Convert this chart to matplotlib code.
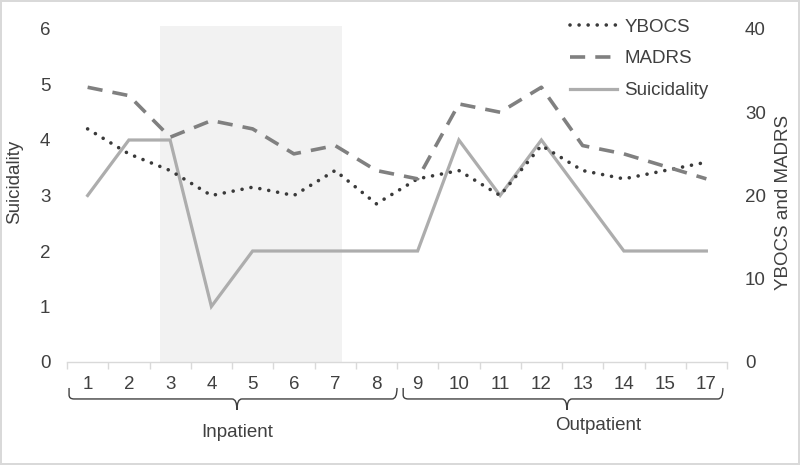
import matplotlib
matplotlib.use("Agg")
import matplotlib.pyplot as plt
from matplotlib.patches import Rectangle, PathPatch
from matplotlib.path import Path
import matplotlib.transforms as mtransforms

plt.rcParams['font.family'] = ['Liberation Sans', 'DejaVu Sans']

sessions = ["1", "2", "3", "4", "5", "6", "7", "8", "9", "10", "11", "12", "13", "14", "15", "17"]
suicidality = [3, 4, 4, 1, 2, 2, 2, 2, 2, 4, 3, 4, 3, 2, 2, 2]
ybocs = [28, 25, 23, 20, 21, 20, 23, 19, 22, 23, 20, 26, 23, 22, 23, 24]
madrs = [33, 32, 27, 29, 28, 25, 26, 23, 22, 31, 30, 33, 26, 25, 23.5, 22]
groups = ["Inpatient", "Outpatient"]

TXT = '#404040'
FS = 13.5
fig = plt.figure(figsize=(8, 4.65), dpi=100)
fig.patch.set_edgecolor('#d9d9d9')
fig.patch.set_linewidth(1.5)
ax1 = fig.add_axes([67/800, 1-362/465, 660/800, 333/465])
ax2 = ax1.twinx()

x = list(range(len(sessions)))

# shaded inpatient-intervention region
ax1.add_patch(Rectangle((1.755, 0), 6.17-1.755, 6.05, facecolor='#f2f2f2',
                        edgecolor='none', zorder=0, clip_on=False))

l_s, = ax1.plot(x, suicidality, color='#adadad', lw=2.3, solid_joinstyle='miter', zorder=3)
l_y, = ax2.plot(x, ybocs, color='#3a3a3a', lw=2.6, ls=(0, (0.01, 2.5)),
                dash_capstyle='round', zorder=3)
l_m, = ax2.plot(x, madrs, color='#808080', lw=2.6, ls=(0, (4.2, 2.8)),
                dash_capstyle='butt', zorder=3)

ax1.set_xlim(-0.5, len(sessions) - 0.5)
ax1.set_ylim(0, 6)
ax2.set_ylim(0, 40)
ax1.set_yticks(range(0, 7))
ax2.set_yticks(range(0, 41, 10))
ax1.set_xticks(x)
ax1.set_xticklabels(sessions)
ax1.set_xticks([i - 0.5 for i in range(len(sessions) + 1)], minor=True)

for ax in (ax1, ax2):
    for s in ('top', 'left', 'right', 'bottom'):
        ax.spines[s].set_visible(False)
ax1.spines['bottom'].set_visible(True)
ax1.spines['bottom'].set_color('#d9d9d9')
ax1.spines['bottom'].set_linewidth(1)
ax2.patch.set_visible(False)

ax1.tick_params(axis='y', length=0, pad=12, labelsize=FS, labelcolor=TXT)
ax2.tick_params(axis='y', length=0, pad=13, labelsize=FS, labelcolor=TXT)
ax1.tick_params(axis='x', which='major', length=0, pad=10, labelsize=FS, labelcolor=TXT)
ax1.tick_params(axis='x', which='minor', length=5, width=1, color='#d9d9d9')

fig.text(15/800, 1-182/465, "Suicidality", rotation=90, ha='center', va='center',
         fontsize=FS, color=TXT)
fig.text(783/800, 1-202/465, "YBOCS and MADRS", rotation=90, ha='center', va='center',
         fontsize=FS, color=TXT)

# braces
trans = mtransforms.blended_transform_factory(ax1.transData, ax1.transAxes)
def brace(x0, x1, xc, label, lx, ly):
    yt, ym, yb = -0.078, -0.111, -0.144
    r = 0.12
    dy = 0.012
    codes = [Path.MOVETO, Path.LINETO, Path.CURVE3, Path.CURVE3,
             Path.LINETO, Path.CURVE3, Path.CURVE3,
             Path.MOVETO, Path.CURVE3, Path.CURVE3, Path.LINETO, Path.CURVE3, Path.CURVE3]
    verts = [(x0, yt), (x0, ym + dy), (x0, ym), (x0 + r, ym),
             (xc - r, ym), (xc, ym), (xc, yb),
             (xc, yb), (xc, ym), (xc + r, ym), (x1 - r, ym), (x1, ym), (x1, yt)]
    p = PathPatch(Path(verts, codes), transform=trans, facecolor='none',
                  edgecolor='#404040', lw=1.0, clip_on=False)
    ax1.add_patch(p)
    ax1.text(lx, ly, label, transform=trans, ha='center', va='center',
             fontsize=FS, color=TXT, clip_on=False)

brace(-0.45, 7.5, 3.62, groups[0], 3.62, -0.213)
brace(7.65, 15.4, 11.62, groups[1], 12.37, -0.192)

leg = ax2.legend([l_y, l_m, l_s], ["YBOCS", "MADRS", "Suicidality"],
                 loc='upper right', bbox_to_anchor=(716/800, 1-11/465),
                 bbox_transform=fig.transFigure, frameon=False,
                 fontsize=FS, handlelength=2.5, handletextpad=0.4,
                 labelspacing=0.78, borderaxespad=0)
for t in leg.get_texts():
    t.set_color(TXT)

fig.savefig("out.png", dpi=100)
